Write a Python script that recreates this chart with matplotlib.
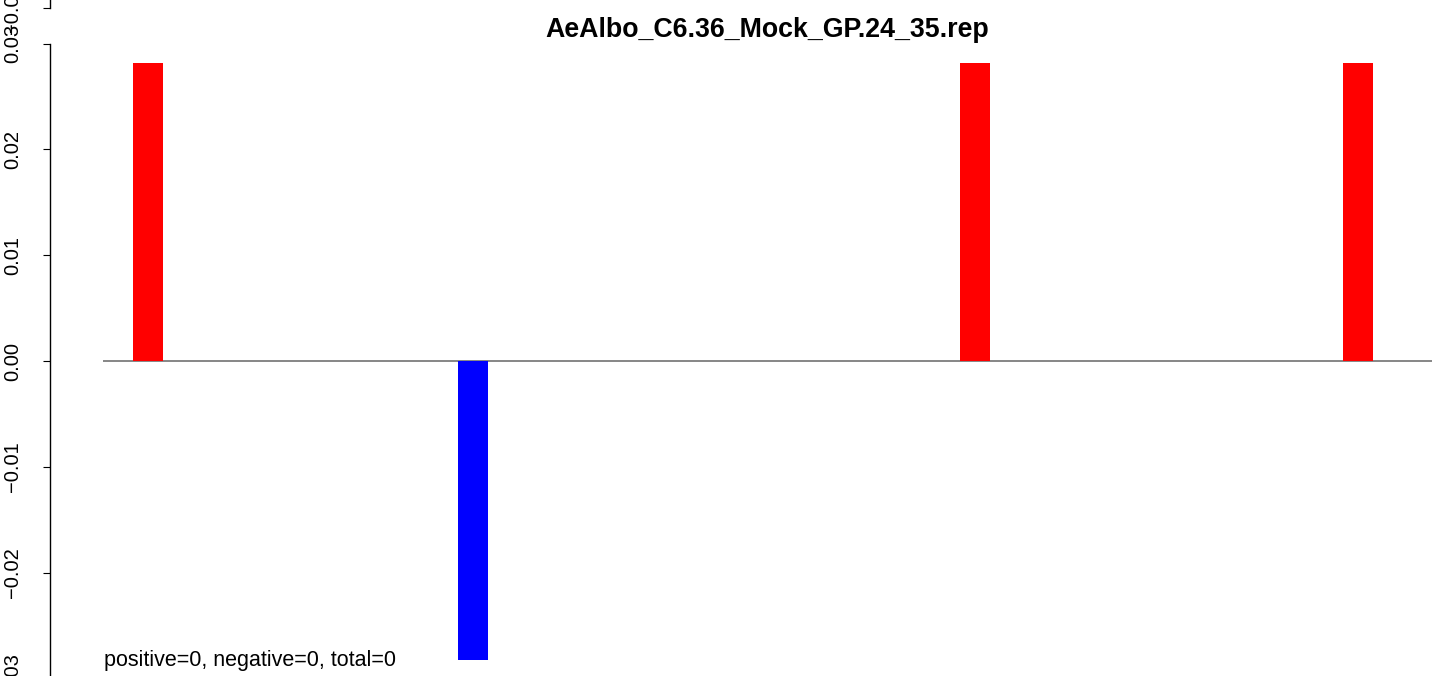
import matplotlib
matplotlib.use("Agg")
import matplotlib.pyplot as plt

# ---- data ----
title = "AeAlbo_C6.36_Mock_GP.24_35.rep"
positions = [3.39, 27.84, 65.61, 94.43]      # bar centres (x scale 0..100)
values = [0.0282, -0.0283, 0.0282, 0.0282]
colors = ["#FF0000", "#0000FF", "#FF0000", "#FF0000"]
yticks = [-0.03, -0.02, -0.01, 0.00, 0.01, 0.02, 0.03]
ytick_labels = ["\u22120.03", "\u22120.02", "\u22120.01", "0.00", "0.01", "0.02", "0.03"]
summary = "positive=0, negative=0, total=0"

plt.rcParams["font.family"] = ["Liberation Sans", "DejaVu Sans"]

W, H = 1436, 676
fig = plt.figure(figsize=(W / 100, H / 100), dpi=100)

def px_rect(left, top, right, bottom):
    return [left / W, 1 - bottom / H, (right - left) / W, (bottom - top) / H]

ylim = (-0.0312, 0.0312)

def style_yaxis(ax):
    for s in ["top", "right", "bottom"]:
        ax.spines[s].set_visible(False)
    ax.spines["left"].set_position(("outward", 38.2))
    ax.spines["left"].set_bounds(-0.03, 0.03)
    ax.spines["left"].set_linewidth(1.0)
    ax.set_yticks(yticks)
    ax.set_yticklabels(ytick_labels, rotation=90, va="center")
    ax.tick_params(axis="y", length=5, width=0.8, pad=15, labelsize=14.5)
    ax.set_xticks([])
    ax.set_ylim(*ylim)

# main panel
ax = fig.add_axes(px_rect(103, 31, 1432, 691))
ax.patch.set_alpha(0)
ax.bar(positions, values, width=2.26, color=colors, zorder=2)
ax.axhline(0, color="#666666", lw=1.1, zorder=1)
ax.set_xlim(0, 100)
style_yaxis(ax)
ax.text(0.1, -0.0283, summary, fontsize=15.5, ha="left", va="center")
fig.text(767 / W, 1 - 30 / H, title, fontsize=19.3, fontweight="bold",
         ha="center", va="center")

# bottom edge of the panel above (only its lowest tick is visible)
ax_up = fig.add_axes(px_rect(103, 31 - 670, 1432, 691 - 670))
ax_up.patch.set_alpha(0)
ax_up.set_xlim(0, 100)
style_yaxis(ax_up)

fig.savefig("out.png", dpi=100)
